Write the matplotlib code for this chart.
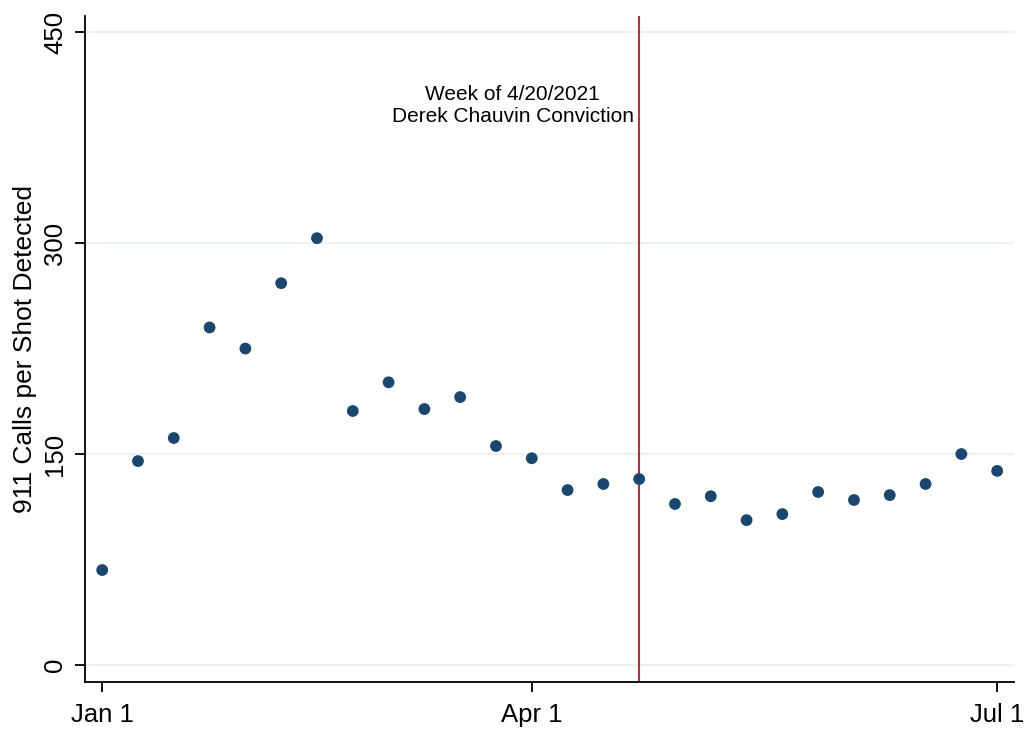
import matplotlib.pyplot as plt

plt.rcParams['font.family'] = ['Liberation Sans', 'DejaVu Sans']

# week index since Jan 1, 2021
weeks = list(range(26))
calls = [67.5, 145, 161.4, 240, 225, 271.5, 303.5, 180.6, 201, 182, 190.5, 155.7, 147,
         124.4, 128.7, 132.2, 114.5, 120, 103, 107.3, 123, 117.3, 120.8, 128.7, 150, 138]

xticks = [0, 12, 25]
xlabels = ['Jan 1', 'Apr 1', 'Jul 1']
yticks = [0, 150, 300, 450]
event_week = 15

fig = plt.figure(figsize=(10.29, 7.32), dpi=100)
ax = fig.add_axes([0.0826, 0.0683, 0.9028, 0.9097])

ax.set_xlim(-0.48, 25.47)
ax.set_ylim(-12.1, 461.4)

for y in yticks:
    ax.axhline(y, color='#eaf2f3', lw=1.5, zorder=0)

ax.scatter(weeks, calls, s=72, color='#1a476f', zorder=3, edgecolors='none')
ax.axvline(event_week, color='#c8102e', lw=1.3, zorder=2)
ax.text(event_week - 0.15, 397.5, 'Week of 4/20/2021\nDerek Chauvin Conviction',
        ha='right', va='center', multialignment='center', fontsize=15, linespacing=1.2)

ax.set_xticks(xticks)
ax.set_xticklabels(xlabels)
ax.set_yticks(yticks)
ax.set_yticklabels([str(v) for v in yticks], rotation=90, va='center')
ax.tick_params(axis='both', labelsize=18.5, length=7, width=1.3, color='black')
ax.tick_params(axis='x', pad=8)
ax.tick_params(axis='y', pad=6)
ax.set_ylabel('911 Calls per Shot Detected', fontsize=19, labelpad=4)

for s in ['top', 'right']:
    ax.spines[s].set_visible(False)
for s in ['left', 'bottom']:
    ax.spines[s].set_linewidth(1.3)

fig.savefig('out.png', dpi=100)
